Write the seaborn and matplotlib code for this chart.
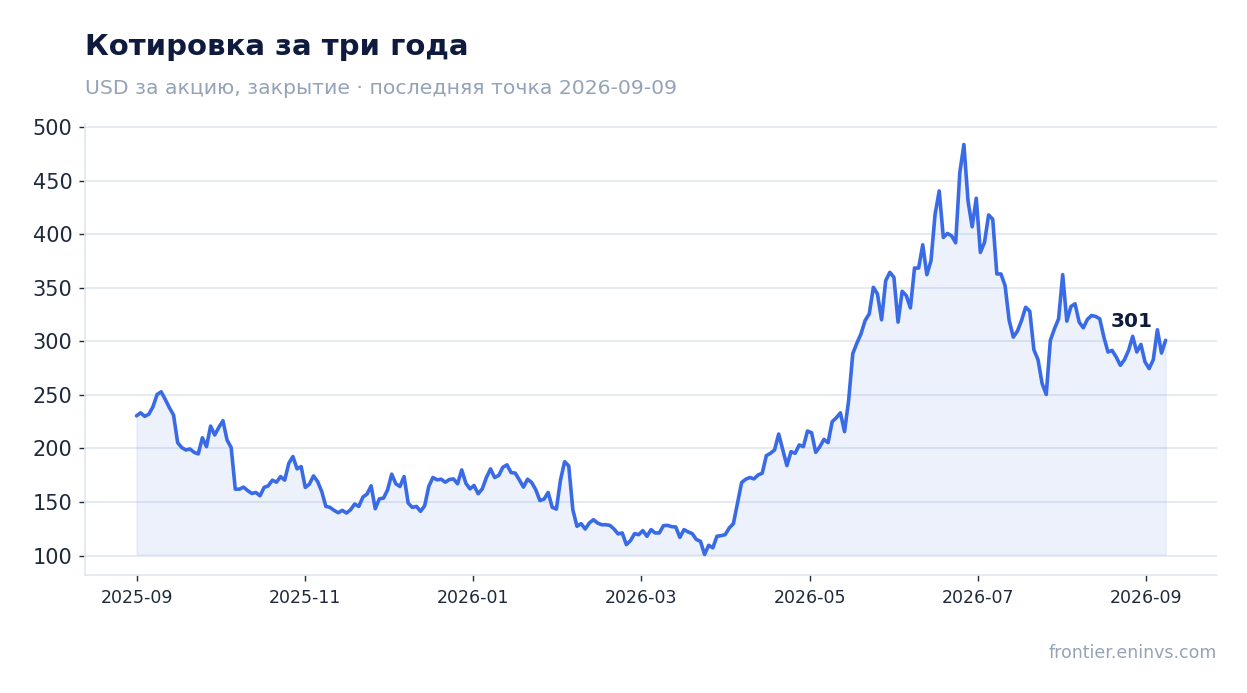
import numpy as np
import pandas as pd
import matplotlib
matplotlib.use("Agg")
import matplotlib.pyplot as plt
import matplotlib.dates as mdates
import seaborn as sns

# closing prices (evenly spaced points)
close = [
    230.5, 233.3, 230.0, 232.0, 239.0, 250.4, 252.9, 245.7, 238.0, 231.2,
    205.4, 200.8, 198.6, 199.5, 196.4, 194.9, 210.0, 201.7, 220.9, 212.6,
    219.7, 225.9, 207.9, 200.8, 162.0, 162.0, 163.9, 160.7, 158.0, 158.9,
    155.8, 163.6, 165.1, 170.4, 168.5, 173.8, 170.4, 186.2, 192.4, 181.0,
    183.1, 163.6,
    166.7, 174.4, 169.1, 159.8, 145.9, 145.0, 142.2, 140.0, 142.2, 139.7,
    142.8, 148.1, 145.9, 154.6, 157.4, 165.1, 143.7, 153.0, 153.6, 161.4,
    176.0, 167.0, 164.5, 173.8, 149.0, 145.0, 145.9, 141.3, 146.5, 164.5,
    172.9, 170.7, 171.3, 168.5, 171.0, 171.6, 167.0, 180.0, 167.6, 162.3,
    165.4, 157.7,
    162.3, 172.9, 180.9, 172.9, 174.8, 182.5, 184.7, 177.5, 177.0, 170.7,
    163.9, 171.3, 168.2, 161.4, 151.4, 152.7, 158.9, 145.0, 143.4, 170.7,
    187.7, 183.7, 142.8, 127.3, 129.8, 124.8, 130.4, 133.5, 130.4, 128.8,
    128.8, 128.2, 124.8, 120.2, 121.1, 110.2, 114.0, 120.5, 119.5, 123.3,
    118.0, 124.2,
    121.1, 121.1, 127.9, 128.2, 127.0, 126.7, 117.0, 124.2, 122.1, 120.5,
    115.0, 113.3, 101.0, 109.6, 107.2, 118.0, 118.6, 119.5, 125.8, 129.8,
    149.0, 168.2, 171.3, 172.9, 171.6, 175.3, 176.9, 193.3, 195.5, 198.6,
    213.5, 198.6, 184.0, 197.0, 195.5, 203.3, 201.7, 216.3, 214.7, 196.4,
    201.7,
    208.5, 205.4, 225.0, 228.7, 233.3, 215.7, 245.1, 288.5, 298.4, 307.1,
    319.5, 325.7, 350.5, 344.3, 320.2, 356.7, 364.5, 359.8, 318.0, 346.8,
    342.8, 331.3, 368.5, 368.5, 390.2, 362.3, 375.3, 418.8, 440.5, 397.1,
    400.8, 398.6, 392.1, 457.5, 483.9, 431.2, 407.0, 433.7, 383.1, 392.4,
    418.1, 414.1, 363.0, 363.0, 352.1, 319.5, 304.0, 309.6, 319.5, 331.9,
    328.2, 292.2, 282.9, 260.6, 250.4, 301.0, 311.8, 321.1, 362.3, 318.9,
    332.6, 335.1, 318.0, 312.7, 320.5, 324.2, 323.3, 321.1, 304.0, 290.1,
    291.6, 285.4, 277.7, 282.9, 291.6, 304.7, 290.1, 297.2, 280.8, 274.6,
    282.9, 310.9, 289.1, 301.0,
]
start_date = "2025-09-01"
end_date = "2026-09-09"
tick_step_days = 61

title = "Котировка за три года"
subtitle = "USD за акцию, закрытие · последняя точка 2026-09-09"
source = "frontier.eninvs.com"

line_color = "#3a6be6"
navy = "#0e1b3f"
muted = "#94a3b8"
grid_color = "#e2e8f0"

sns.set_style("white", rc={"axes.edgecolor": grid_color, "grid.color": grid_color})
plt.rcParams["font.family"] = ["DejaVu Sans"]

df = pd.DataFrame({
    "date": pd.date_range(start_date, end_date, periods=len(close)),
    "close": close,
})

fig = plt.figure(figsize=(12.47, 6.93), dpi=100)
ax = fig.add_axes([0.0682, 0.1703, 0.9078, 0.6508])

ax.fill_between(df["date"], df["close"], df["close"].min(),
                color=line_color, alpha=0.09, linewidth=1)
sns.lineplot(data=df, x="date", y="close", ax=ax, color=line_color, linewidth=2.6)

last = df.iloc[-1]
ax.annotate(f"{last['close']:.0f}", xy=(last["date"], last["close"]),
            xytext=(-9, 7), textcoords="offset points", ha="right", va="bottom",
            fontsize=14.5, fontweight="bold", color=navy)

ticks = pd.date_range(start_date, periods=7, freq=f"{tick_step_days}D")
ax.set_xticks(ticks)
ax.xaxis.set_major_formatter(mdates.DateFormatter("%Y-%m"))
ax.set_yticks([100, 150, 200, 250, 300, 350, 400, 450, 500])

ax.grid(axis="y", color=grid_color, linewidth=1.2)
ax.set_axisbelow(True)
for side in ["top", "right"]:
    ax.spines[side].set_visible(False)
for side in ["left", "bottom"]:
    ax.spines[side].set_color(grid_color)
    ax.spines[side].set_linewidth(1.2)

ax.tick_params(axis="y", labelsize=15, colors="#1e293b", length=4, width=1, pad=5)
ax.tick_params(axis="x", labelsize=12.5, colors="#1e293b", length=4, width=1, pad=6)
ax.tick_params(bottom=True, left=True)
ax.set_xlabel("")
ax.set_ylabel("")

fig.text(85 / 1247, 1 - 55 / 693, title, fontsize=21, fontweight="bold", color=navy,
         ha="left", va="baseline")
fig.text(85 / 1247, 1 - 94 / 693, subtitle, fontsize=14.7, color=muted,
         ha="left", va="baseline")
fig.text(1217 / 1247, 1 - 658 / 693, source, fontsize=12.5, color=muted,
         ha="right", va="baseline")

fig.savefig("out.png", dpi=100)
